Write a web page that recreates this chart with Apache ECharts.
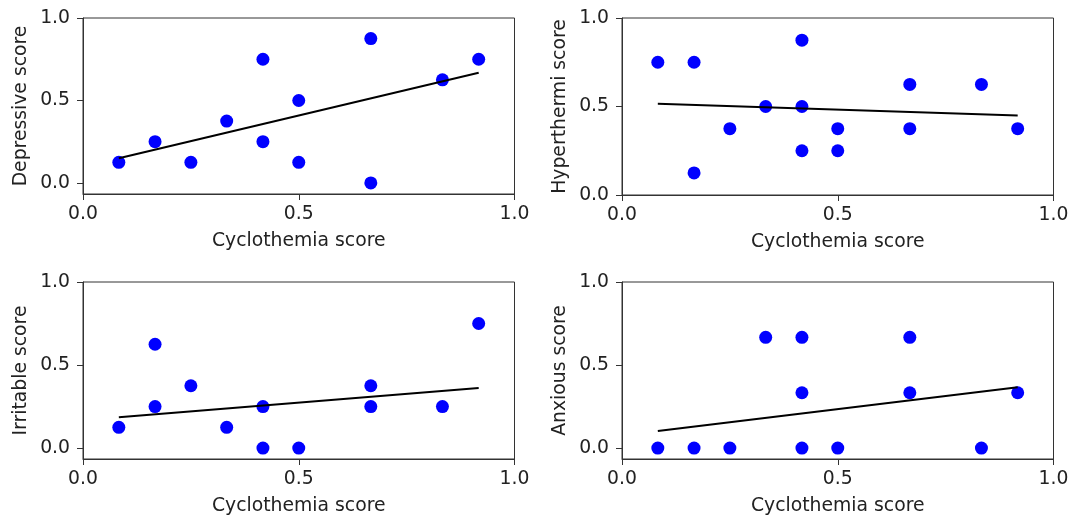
<!DOCTYPE html>
<html>
<head>
<meta charset="utf-8">
<script src="https://cdn.jsdelivr.net/npm/echarts@6/dist/echarts.min.js"></script>
<style>
html,body{margin:0;padding:0;background:#fff;}
#chart{width:1077px;height:523px;}
</style>
</head>
<body>
<div id="chart"></div>
<script>
// ---- data ----
var xLabelText = 'Cyclothemia score';
var panelNames = ['Depressive score', 'Hyperthermi score', 'Irritable score', 'Anxious score'];
var tickValues = [0, 0.5, 1.0];

var depressiveX = [0.083, 0.167, 0.25, 0.333, 0.417, 0.417, 0.5, 0.5, 0.667, 0.667, 0.833, 0.917];
var depressiveY = [0.125, 0.25, 0.125, 0.375, 0.75, 0.25, 0.5, 0.125, 0.875, 0, 0.625, 0.75];
var depressiveFit = [[0.083, 0.15], [0.917, 0.668]];

var hyperX = [0.083, 0.167, 0.167, 0.25, 0.333, 0.417, 0.417, 0.417, 0.5, 0.5, 0.667, 0.667, 0.833, 0.917];
var hyperY = [0.75, 0.75, 0.125, 0.375, 0.5, 0.875, 0.5, 0.25, 0.375, 0.25, 0.625, 0.375, 0.625, 0.375];
var hyperFit = [[0.083, 0.515], [0.917, 0.449]];

var irritableX = [0.083, 0.167, 0.167, 0.25, 0.333, 0.417, 0.417, 0.5, 0.667, 0.667, 0.833, 0.917];
var irritableY = [0.125, 0.625, 0.25, 0.375, 0.125, 0.25, 0, 0, 0.375, 0.25, 0.25, 0.75];
var irritableFit = [[0.083, 0.185], [0.917, 0.361]];

var anxiousX = [0.083, 0.167, 0.25, 0.333, 0.417, 0.417, 0.417, 0.5, 0.667, 0.667, 0.833, 0.917];
var anxiousY = [0, 0, 0, 0.667, 0.667, 0.333, 0, 0, 0.667, 0.333, 0, 0.333];
var anxiousFit = [[0.083, 0.102], [0.917, 0.366]];

var yMins = [-0.067, 0, -0.066, -0.066];
// ---------------------------------------

function zip(a, b) { return a.map(function (v, i) { return [v, b[i]]; }); }

var panels = [
  { x: depressiveX, y: depressiveY, fit: depressiveFit },
  { x: hyperX, y: hyperY, fit: hyperFit },
  { x: irritableX, y: irritableY, fit: irritableFit },
  { x: anxiousX, y: anxiousY, fit: anxiousFit }
];

var gridPos = [
  { left: 83, top: 18, width: 431.5, height: 176 },
  { left: 622, top: 18, width: 431.5, height: 177 },
  { left: 83, top: 282, width: 431.5, height: 177 },
  { left: 622, top: 282, width: 431.5, height: 177 }
];

var FONT = 'DejaVu Sans';
var FS = 18.8;
var TXT = '#222';
var AX = '#333';

var grids = [], xAxes = [], yAxes = [], series = [];
panels.forEach(function (p, i) {
  var g = gridPos[i];
  grids.push({
    left: g.left, top: g.top, width: g.width, height: g.height,
    show: true, borderColor: AX, borderWidth: 1, backgroundColor: 'transparent',
    containLabel: false, outerBoundsMode: 'none'
  });
  xAxes.push({
    type: 'value', gridIndex: i, min: 0, max: 1, interval: 0.5,
    name: xLabelText, nameLocation: 'middle', nameGap: 37.5,
    nameTextStyle: { fontFamily: FONT, fontSize: FS, color: TXT },
    axisLine: { show: true, onZero: false, lineStyle: { color: AX, width: 1 } },
    axisTick: { show: true, inside: false, length: 6, lineStyle: { color: AX } },
    axisLabel: { show: true, margin: 11, fontFamily: FONT, fontSize: FS, color: TXT,
      formatter: function (v) { return v.toFixed(1); } },
    splitLine: { show: false }
  });
  yAxes.push({
    type: 'value', gridIndex: i, min: yMins[i], max: 1,
    name: panelNames[i], nameLocation: 'middle', nameGap: 52.5, nameRotate: 90,
    nameTextStyle: { fontFamily: FONT, fontSize: FS, color: TXT },
    axisLine: { show: true, onZero: false, lineStyle: { color: AX, width: 1 } },
    axisTick: { show: true, inside: false, length: 6, lineStyle: { color: AX }, customValues: tickValues },
    axisLabel: { show: true, margin: 13, fontFamily: FONT, fontSize: FS, color: TXT, customValues: tickValues,
      formatter: function (v) { return Number(v).toFixed(1); } },
    splitLine: { show: false }
  });
  series.push({
    type: 'scatter', xAxisIndex: i, yAxisIndex: i,
    data: zip(p.x, p.y), symbol: 'circle', symbolSize: 13,
    itemStyle: { color: '#0000ff', opacity: 1 }, z: 2, silent: true
  });
  series.push({
    type: 'line', xAxisIndex: i, yAxisIndex: i,
    data: p.fit, showSymbol: false, symbol: 'none',
    lineStyle: { color: '#000', width: 2 }, z: 3, silent: true
  });
});

var chart = echarts.init(document.getElementById('chart'), null, { renderer: 'canvas' });
chart.setOption({
  animation: false,
  backgroundColor: '#fff',
  grid: grids,
  xAxis: xAxes,
  yAxis: yAxes,
  series: series
});
</script>
</body>
</html>
